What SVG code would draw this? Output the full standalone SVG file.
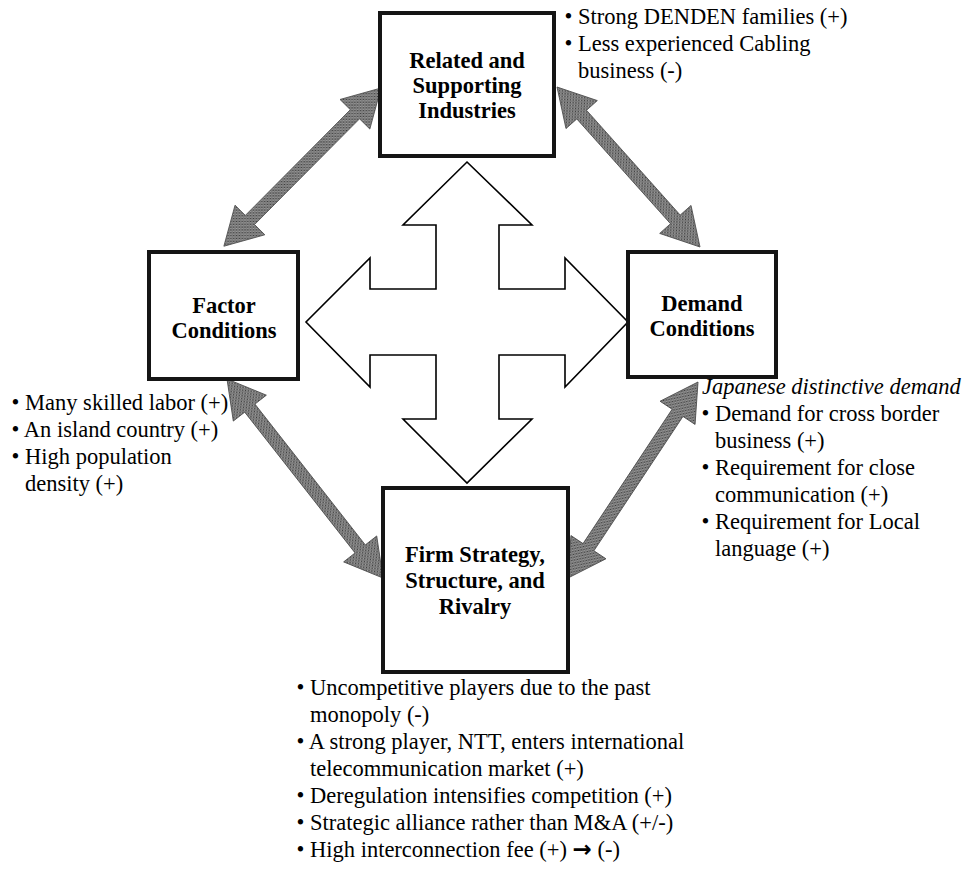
<svg xmlns="http://www.w3.org/2000/svg" width="967" height="873" viewBox="0 0 967 873">
<defs>
<pattern id="halftone" width="4" height="4" patternUnits="userSpaceOnUse">
<rect width="4" height="4" fill="#7c7c7c"/>
<rect x="0" y="0" width="1" height="1" fill="#3a3a3a"/>
<rect x="2" y="2" width="1" height="1" fill="#3a3a3a"/>
<rect x="3" y="1" width="1" height="1" fill="#a0a0a0"/>
<rect x="1" y="3" width="1" height="1" fill="#a0a0a0"/>
</pattern>
</defs>
<style>
.box{fill:#fff;stroke:#151515;stroke-width:4}
.lbl{font-family:"Liberation Serif","Times New Roman",serif;font-weight:bold;font-size:22.5px;text-anchor:middle;fill:#000}
.txt{font-family:"Liberation Serif","Times New Roman",serif;font-size:22.5px;fill:#000}
.it{font-style:italic}
.sym{font-family:"DejaVu Sans",sans-serif;font-weight:bold;font-size:23px}
.cross{fill:#fff;stroke:#000;stroke-width:1.6;stroke-linejoin:miter}
.garrow{fill:url(#halftone);stroke:#4a4a4a;stroke-width:0.8}
</style>
<rect width="967" height="873" fill="#fff"/>

<g id="center-cross">
<polygon class="cross" points="467,162 532,225 499,225 499,289 565,289 565,258 628,322 565,387 565,355 499,355 499,419 532,419 467,483 403,419 436,419 436,355 370,355 370,387 306,322 370,258 370,289 436,289 436,225 403,225"/>
</g>

<g id="connectors">
<path class="garrow" transform="translate(381,88) rotate(134.8)" d="M0,0 L37,-21 L37,-6.5 L186,-6.5 L186,-21 L223,0 L186,21 L186,6.5 L37,6.5 L37,21 Z"/>
<path class="garrow" transform="translate(557,87) rotate(48.21)" d="M0,0 L37,-21 L37,-6.5 L177.6,-6.5 L177.6,-21 L214.6,0 L177.6,21 L177.6,6.5 L37,6.5 L37,21 Z"/>
<path class="garrow" transform="translate(227,379) rotate(51.91)" d="M0,0 L37,-21 L37,-6.5 L215.9,-6.5 L215.9,-21 L252.9,0 L215.9,21 L215.9,6.5 L37,6.5 L37,21 Z"/>
<path class="garrow" transform="translate(698,382) rotate(123.55)" d="M0,0 L37,-21 L37,-6.5 L198.2,-6.5 L198.2,-21 L235.2,0 L198.2,21 L198.2,6.5 L37,6.5 L37,21 Z"/>
</g>

<g id="related">
<rect class="box" x="380" y="13" width="174" height="143"/>
<text class="lbl" x="467" y="68">Related and</text>
<text class="lbl" x="467" y="93">Supporting</text>
<text class="lbl" x="467" y="118">Industries</text>
</g>

<g id="factor">
<rect class="box" x="149" y="252" width="149" height="127"/>
<text class="lbl" x="224" y="313">Factor</text>
<text class="lbl" x="224" y="338">Conditions</text>
</g>

<g id="demand">
<rect class="box" x="628" y="252" width="148" height="125"/>
<text class="lbl" x="702" y="311">Demand</text>
<text class="lbl" x="702" y="336">Conditions</text>
</g>

<g id="firm">
<rect class="box" x="383" y="488" width="185" height="184"/>
<text class="lbl" x="475" y="562">Firm Strategy,</text>
<text class="lbl" x="475" y="588">Structure, and</text>
<text class="lbl" x="475" y="614">Rivalry</text>
</g>

<g id="related-notes">
<text class="txt" x="564.5" y="24">• Strong DENDEN families (+)</text>
<text class="txt" x="564.5" y="51">• Less experienced Cabling</text>
<text class="txt" x="578" y="78">business (-)</text>
</g>

<g id="factor-notes">
<text class="txt" x="11.5" y="410">• Many skilled labor (+)</text>
<text class="txt" x="11.5" y="437">• An island country (+)</text>
<text class="txt" x="11.5" y="464">• High population</text>
<text class="txt" x="25" y="491">density (+)</text>
</g>

<g id="demand-notes">
<text class="txt it" x="702" y="394">Japanese distinctive demand</text>
<text class="txt" x="701.5" y="421">• Demand for cross border</text>
<text class="txt" x="715" y="448">business (+)</text>
<text class="txt" x="701.5" y="475">• Requirement for close</text>
<text class="txt" x="715" y="502">communication (+)</text>
<text class="txt" x="701.5" y="529">• Requirement for Local</text>
<text class="txt" x="715" y="556">language (+)</text>
</g>

<g id="firm-notes">
<text class="txt" x="296.5" y="695">• Uncompetitive players due to the past</text>
<text class="txt" x="310" y="722">monopoly (-)</text>
<text class="txt" x="296.5" y="749">• A strong player, NTT, enters international</text>
<text class="txt" x="310" y="776">telecommunication market (+)</text>
<text class="txt" x="296.5" y="803">• Deregulation intensifies competition (+)</text>
<text class="txt" x="296.5" y="830">• Strategic alliance rather than M&amp;A (+/-)</text>
<text class="txt" x="296.5" y="857">• High interconnection fee (+) <tspan class="sym">→</tspan> (-)</text>
</g>
</svg>
